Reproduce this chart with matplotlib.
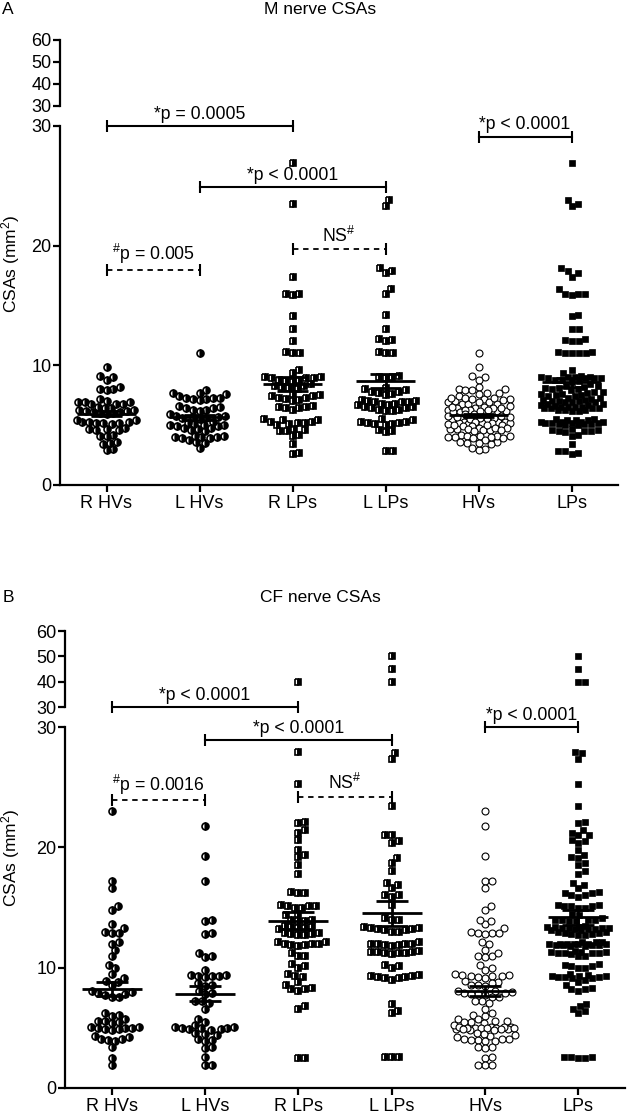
import numpy as np
import matplotlib
matplotlib.use('Agg')
import matplotlib.pyplot as plt

plt.rcParams['font.family'] = ['Liberation Sans', 'DejaVu Sans']
plt.rcParams['mathtext.fontset'] = 'custom'
plt.rcParams['mathtext.rm'] = 'Liberation Sans'
plt.rcParams['mathtext.it'] = 'Liberation Sans:italic'
plt.rcParams['mathtext.bf'] = 'Liberation Sans:bold'

categories = ['R HVs', 'L HVs', 'R LPs', 'L LPs', 'HVs', 'LPs']

# ---------------- Panel A: M nerve CSAs ----------------
m_r_hvs = [9.9, 9.1, 9.0, 8.8, 8.2, 8.0, 8.0, 7.9, 7.2, 7.0, 6.9, 6.9, 6.9, 6.8, 6.8, 6.8,
           6.5, 6.4, 6.4, 6.3, 6.3, 6.2, 6.2, 6.1, 6.1, 6.0, 6.0, 5.9, 5.4, 5.4, 5.3, 5.3,
           5.3, 5.2, 5.2, 5.2, 5.1, 4.8, 4.7, 4.7, 4.6, 4.6, 4.2, 4.1, 4.1, 3.6, 3.5, 3.4,
           3.0, 2.9]
m_l_hvs = [11.0, 7.9, 7.7, 7.7, 7.6, 7.4, 7.3, 7.3, 7.3, 7.2, 7.2, 7.1, 6.6, 6.5, 6.4, 6.4,
           6.3, 6.3, 6.2, 5.9, 5.8, 5.8, 5.7, 5.7, 5.6, 5.6, 5.5, 5.3, 5.2, 5.1, 5.0, 5.0,
           5.0, 4.9, 4.9, 4.8, 4.8, 4.7, 4.6, 4.5, 4.1, 4.1, 4.0, 4.0, 4.0, 3.9, 3.9, 3.8,
           3.6, 3.5, 3.1]
m_r_lps = [26.9, 23.5, 17.4, 16.0, 16.0, 15.9, 14.1, 13.0, 12.0, 11.1, 11.0, 11.0, 9.6, 9.4,
           9.0, 9.0, 8.9, 8.9, 8.9, 8.8, 8.8, 8.7, 8.6, 8.4, 8.3, 8.3, 8.2, 8.1, 8.0, 7.6,
           7.5, 7.4, 7.4, 7.3, 7.3, 7.2, 7.1, 7.0, 6.6, 6.5, 6.5, 6.4, 6.4, 6.3, 5.5, 5.4,
           5.4, 5.3, 5.3, 5.2, 5.2, 5.1, 5.0, 4.7, 4.6, 4.5, 4.5, 4.2, 4.1, 3.4, 2.7, 2.6]
m_l_lps = [23.8, 23.3, 18.1, 17.9, 17.7, 16.4, 16.0, 14.2, 13.0, 12.2, 12.1, 12.0, 11.1, 11.0,
           11.0, 9.1, 9.0, 9.0, 8.9, 8.1, 8.0, 7.9, 7.8, 7.8, 7.7, 7.6, 7.5, 7.1, 7.0, 7.0,
           6.9, 6.9, 6.9, 6.8, 6.8, 6.7, 6.7, 6.5, 6.5, 6.4, 6.4, 6.3, 6.3, 6.2, 6.2, 5.5,
           5.4, 5.3, 5.3, 5.2, 5.2, 5.1, 5.1, 5.0, 4.6, 4.5, 4.4, 2.8, 2.8]

# ---------------- Panel B: CF nerve CSAs ----------------
cf_r_hvs = [23.0, 17.2, 16.6, 15.1, 14.8, 13.6, 13.3, 13.0, 12.9, 12.9, 12.1, 12.0, 11.5,
            11.0, 10.2, 10.0, 9.5, 9.1, 8.9, 8.8, 8.6, 8.1, 8.0, 7.9, 7.8, 7.7, 7.6, 7.6,
            6.2, 6.1, 6.0, 5.7, 5.6, 5.6, 5.5, 5.4, 5.1, 5.1, 5.0, 5.0, 5.0, 4.9, 4.9, 4.8,
            4.3, 4.2, 4.1, 4.1, 4.0, 3.9, 3.4, 2.5, 1.9]
cf_l_hvs = [21.8, 19.3, 17.2, 14.0, 13.9, 12.9, 12.8, 11.2, 11.0, 10.9, 9.8, 9.4, 9.4, 9.3,
            9.3, 9.3, 9.2, 8.7, 8.6, 8.5, 8.1, 7.9, 7.8, 7.2, 7.2, 7.1, 6.6, 5.7, 5.5, 5.2,
            5.1, 5.1, 5.0, 5.0, 5.0, 4.9, 4.9, 4.8, 4.6, 4.5, 4.4, 4.1, 4.0, 3.9, 3.4, 3.3,
            2.6, 1.9, 1.9]
cf_r_lps = [40.0, 27.9, 25.3, 22.1, 22.0, 21.4, 21.2, 20.6, 19.8, 19.4, 19.2, 18.5, 17.8,
            16.3, 16.2, 16.2, 15.2, 15.1, 15.1, 15.1, 15.0, 15.0, 14.5, 14.4, 14.0, 14.0,
            13.9, 13.9, 13.5, 13.4, 13.4, 13.3, 13.3, 13.2, 12.9, 12.9, 12.8, 12.8, 12.7,
            12.7, 12.1, 12.1, 12.0, 12.0, 12.0, 11.9, 11.9, 11.8, 11.2, 11.0, 11.0, 10.3,
            10.1, 10.0, 9.5, 9.3, 9.2, 8.8, 8.6, 8.3, 8.2, 8.2, 8.1, 6.8, 6.6, 2.5, 2.5]
cf_l_lps = [50.0, 45.0, 40.0, 27.8, 27.3, 23.4, 21.0, 21.0, 20.5, 20.4, 19.1, 18.7, 18.0,
            17.0, 16.9, 16.6, 16.0, 16.0, 15.9, 15.2, 14.1, 14.0, 14.0, 13.4, 13.3, 13.3,
            13.2, 13.2, 13.1, 13.1, 13.0, 13.0, 12.1, 12.0, 12.0, 12.0, 12.0, 11.9, 11.9,
            11.8, 11.4, 11.3, 11.3, 11.3, 11.2, 11.2, 11.2, 11.1, 10.2, 10.1, 10.0, 9.4,
            9.3, 9.3, 9.2, 9.2, 9.1, 9.1, 9.0, 7.0, 6.4, 6.2, 2.6, 2.6, 2.6]

# comparisons: (group i, group j, height, label, dashed, on upper axis)
m_brackets = [(0, 2, 30.0, '*p = 0.0005', False, False),
              (1, 3, 24.9, '*p < 0.0001', False, False),
              (0, 1, 18.0, r'$^{\#}$p = 0.005', True, False),
              (2, 3, 19.7, r'NS$^{\#}$', True, False),
              (4, 5, 29.1, '*p < 0.0001', False, False)]
cf_brackets = [(0, 2, 30.0, '*p < 0.0001', False, True),
               (1, 3, 28.9, '*p < 0.0001', False, False),
               (0, 1, 23.9, r'$^{\#}$p = 0.0016', True, False),
               (2, 3, 24.2, r'NS$^{\#}$', True, False),
               (4, 5, 30.0, '*p < 0.0001', False, False)]

W, H = 630, 1113
fig = plt.figure(figsize=(W / 100, H / 100), dpi=100)


def make_axes(left_px, right_px, low_bottom, low_top, up_bottom, up_top):
    l = left_px / W
    w = (right_px - left_px) / W
    ax_lo = fig.add_axes([l, 1 - low_bottom / H, w, (low_bottom - low_top) / H])
    ax_hi = fig.add_axes([l, 1 - up_bottom / H, w, (up_bottom - up_top) / H])
    for ax in (ax_lo, ax_hi):
        ax.set_facecolor('none')
        ax.set_xlim(-0.5, 5.5)
        for s in ('top', 'right'):
            ax.spines[s].set_visible(False)
        ax.spines['left'].set_linewidth(1.6)
        ax.tick_params(axis='y', direction='out', length=5, width=1.6, labelsize=13, pad=1)
    ax_lo.spines['bottom'].set_linewidth(1.6)
    ax_lo.set_ylim(0, 30)
    ax_lo.set_yticks([0, 10, 20, 30])
    ax_lo.set_xticks(range(len(categories)))
    ax_lo.set_xticklabels(categories)
    ax_lo.tick_params(axis='x', direction='out', length=5, width=1.6, labelsize=13, pad=2)
    ax_hi.spines['bottom'].set_visible(False)
    ax_hi.set_ylim(30, 60)
    ax_hi.set_yticks([30, 40, 50, 60])
    ax_hi.set_xticks([])
    return ax_lo, ax_hi


def swarm(ypix, d, maxw):
    order = np.argsort(ypix)
    xs = np.zeros(len(ypix))
    placed = []
    grid = np.linspace(-maxw, maxw, 61)
    for i in order:
        y = ypix[i]
        near = [(px, py) for px, py in placed if abs(py - y) < d]
        cands = [0.0]
        for px, py in near:
            dx = np.sqrt(d * d - (py - y) ** 2)
            cands += [px + dx, px - dx]
        cands = [c for c in cands if abs(c) <= maxw + 1e-9]
        cands.sort(key=abs)
        chosen = None
        for c in cands:
            if all((c - px) ** 2 + (y - py) ** 2 >= d * d - 1e-6 for px, py in near):
                chosen = c
                break
        if chosen is None:
            best, bestd = 0.0, -1
            for g in sorted(grid, key=abs):
                md = min((g - px) ** 2 + (y - py) ** 2 for px, py in near)
                if md > bestd + 1e-6:
                    best, bestd = g, md
            chosen = best
        xs[i] = chosen
        placed.append((chosen, y))
    return xs


styles = [
    dict(marker='o', ms=5.0, fillstyle='left', mfc='white', mfcalt='black', mec='black', mew=1.2),
    dict(marker='o', ms=5.0, fillstyle='left', mfc='white', mfcalt='black', mec='black', mew=1.2),
    dict(marker='s', ms=4.4, fillstyle='left', mfc='white', mfcalt='black', mec='black', mew=1.2),
    dict(marker='s', ms=4.4, fillstyle='left', mfc='white', mfcalt='black', mec='black', mew=1.2),
    dict(marker='o', ms=5.0, mfc='white', mec='black', mew=0.8),
    dict(marker='s', ms=4.6, mfc='black', mec='black', mew=0.5),
]
maxw = [30, 30, 30, 30, 31, 31]


def draw_panel(ax_lo, ax_hi, groups, brackets):
    sp = ax_lo.transData.transform((1, 0))[0] - ax_lo.transData.transform((0, 0))[0]
    for k, vals in enumerate(groups):
        v = np.asarray(vals, dtype=float)
        for ax, mask in ((ax_lo, v <= 30), (ax_hi, v > 30)):
            vv = v[mask]
            if len(vv) == 0:
                continue
            ypix = ax.transData.transform(np.column_stack([np.zeros(len(vv)), vv]))[:, 1]
            xo = swarm(ypix, 7.0, maxw[k])
            ax.plot(k + xo / sp, vv, ls='none', clip_on=False, zorder=2, **styles[k])
        mean = v.mean()
        sem = v.std(ddof=1) / np.sqrt(len(v))
        kw = dict(color='black', lw=2.0, zorder=4, solid_capstyle='butt')
        ax_lo.plot([k - 0.32, k + 0.32], [mean, mean], **kw)
        ax_lo.plot([k - 0.17, k + 0.17], [mean + sem, mean + sem], **kw)
        ax_lo.plot([k - 0.17, k + 0.17], [mean - sem, mean - sem], **kw)
        ax_lo.plot([k, k], [mean - sem, mean + sem], **kw)
    for i, j, yv, label, dashed, upper in brackets:
        ax = ax_hi if upper else ax_lo
        ls = (0, (3.0, 2.6)) if dashed else '-'
        lw = 1.3 if dashed else 1.5
        ax.plot([i, j], [yv, yv], color='black', ls=ls, lw=lw, marker='|', ms=8, mew=1.5,
                clip_on=False, zorder=5)
        ax.annotate(label, xy=((i + j) / 2, yv), xytext=(0, 2.5), textcoords='offset points',
                    ha='center', va='bottom', fontsize=12.7, annotation_clip=False)


# Panel A
a_lo, a_hi = make_axes(60, 618, 485, 126, 106, 40)
draw_panel(a_lo, a_hi, [m_r_hvs, m_l_hvs, m_r_lps, m_l_lps, m_r_hvs + m_l_hvs, m_r_lps + m_l_lps],
           m_brackets)
# Panel B
b_lo, b_hi = make_axes(65, 625, 1088, 727, 707, 631)
draw_panel(b_lo, b_hi, [cf_r_hvs, cf_l_hvs, cf_r_lps, cf_l_lps, cf_r_hvs + cf_l_hvs,
                        cf_r_lps + cf_l_lps], cf_brackets)

fig.text(8 / W, 1 - 9 / H, 'A', ha='center', va='center', fontsize=12.5)
fig.text(320 / W, 1 - 9 / H, 'M nerve CSAs', ha='center', va='center', fontsize=12.5)
fig.text(8 / W, 1 - 598 / H, 'B', ha='center', va='center', fontsize=12.5)
fig.text(320 / W, 1 - 598 / H, 'CF nerve CSAs', ha='center', va='center', fontsize=12.5)
fig.text(11 / W, 1 - 264 / H, r'CSAs (mm$^2$)', rotation=90, ha='center', va='center', fontsize=12.5)
fig.text(11 / W, 1 - 858 / H, r'CSAs (mm$^2$)', rotation=90, ha='center', va='center', fontsize=12.5)

fig.savefig('out.png', dpi=100)
